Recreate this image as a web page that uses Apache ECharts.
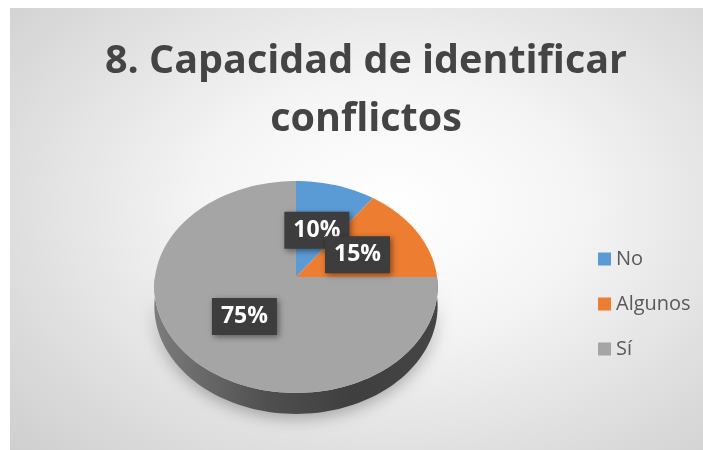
<!DOCTYPE html>
<html>
<head>
<meta charset="utf-8">
<script src="https://cdn.jsdelivr.net/npm/echarts@6/dist/echarts.min.js"></script>
<style>
  html, body { margin: 0; padding: 0; background: #fff; }
  #main {
    position: absolute; left: 10px; top: 8px; width: 693px; height: 442px;
    background: radial-gradient(ellipse 75% 80% at 55% 45%, #ffffff 0%, #f5f5f5 35%, #dadada 80%, #cfcfcf 100%);
  }
</style>
</head>
<body>
<div id="main"></div>
<script>
// datos del gráfico
const categories = ['No', 'Algunos', 'Sí'];
const values = [10, 15, 75];
const colors = ['#5B9BD5', '#ED7D31', '#A5A5A5'];

const total = values.reduce((a, b) => a + b, 0);
const starts = [];
values.reduce((acc, v, i) => { starts[i] = acc; return acc + v; }, 0);

// geometría del pastel 3D (perspectiva simple)
const CX = 286, CY = 269, R = 141, A = 105, P = 0.0943, H = 19;

function project(deg, f, depth) {
  const t = deg * Math.PI / 180;
  const u = f * Math.cos(t);
  const s = 1 / (1 + P * u);
  return [CX + R * f * Math.sin(t) * s, CY + (-A * u + depth) * s];
}

function arc(a, b, f, depth) {
  const pts = [];
  const n = Math.max(2, Math.ceil(Math.abs(b - a) / 2));
  for (let k = 0; k <= n; k++) pts.push(project(a + (b - a) * k / n, f, depth));
  return pts;
}

function shade(hex, k) {
  const n = parseInt(hex.slice(1), 16);
  const c = [n >> 16, (n >> 8) & 255, n & 255].map(v => Math.round(v * k));
  return 'rgb(' + c.join(',') + ')';
}

const chart = echarts.init(document.getElementById('main'));

const renderItem = (params, api) => {
  const i = params.dataIndex;
  const v = api.value(0);
  const start = starts[i] / total * 360;
  const end = start + v / total * 360;
  const children = [];

  // cara lateral (solo la parte delantera)
  const a = Math.max(start, 90), b = Math.min(end, 270);
  if (a < b) {
    const side = arc(a, b, 1, 0).concat(arc(b, a, 1, H));
    children.push({
      type: 'polygon', z2: 1,
      shape: { points: side },
      style: {
        fill: new echarts.graphic.LinearGradient(0, 0, 1, 0, [
          { offset: 0, color: shade(colors[i], 0.75) },
          { offset: 0.4, color: shade(colors[i], 0.48) },
          { offset: 0.7, color: shade(colors[i], 0.38) },
          { offset: 1, color: shade(colors[i], 0.42) }
        ]),
        shadowBlur: 16, shadowColor: 'rgba(0,0,0,0.3)', shadowOffsetY: 4
      }
    });
  }

  // cara superior
  const top = [project(0, 0, 0)].concat(arc(start, end, 1, 0));
  children.push({
    type: 'polygon', z2: 10,
    shape: { points: top },
    style: { fill: colors[i] }
  });

  // etiqueta
  const lp = project((start + end) / 2, 0.5, 0);
  children.push({
    type: 'text', z2: 100 + i,
    x: lp[0], y: lp[1] + 1,
    style: {
      text: Math.round(v / total * 100) + '%',
      fill: '#fff',
      font: 'bold 23px "Open Sans"',
      align: 'center', verticalAlign: 'middle',
      backgroundColor: '#3d3d3d',
      padding: [7, 9],
      shadowBlur: 6, shadowColor: 'rgba(0,0,0,0.45)',
      shadowOffsetX: 2, shadowOffsetY: 2
    }
  });

  return { type: 'group', children: children };
};

const option = {
  animation: false,
  title: {
    text: '8. Capacidad de identificar\nconflictos',
    left: 351,
    textAlign: 'center',
    top: 20,
    textStyle: {
      fontFamily: 'Open Sans',
      fontWeight: 'bold',
      fontSize: 39.5,
      lineHeight: 58,
      color: '#444'
    }
  },
  legend: {
    orient: 'vertical',
    left: 583,
    top: 236,
    icon: 'rect',
    itemWidth: 13,
    itemHeight: 13,
    itemGap: 25,
    data: categories,
    textStyle: { fontFamily: 'Open Sans', fontSize: 20, lineHeight: 20, color: '#595959' }
  },
  series: [
    {
      type: 'custom',
      coordinateSystem: 'none',
      renderItem: renderItem,
      data: values.map((v, i) => ({ name: categories[i], value: [v] }))
    },
    {
      // serie oculta solo para la leyenda
      type: 'pie',
      radius: 0,
      center: [-200, -200],
      silent: true,
      label: { show: false },
      labelLine: { show: false },
      data: values.map((v, i) => ({ name: categories[i], value: v, itemStyle: { color: colors[i] } }))
    }
  ]
};

chart.setOption(option);
</script>
</body>
</html>
